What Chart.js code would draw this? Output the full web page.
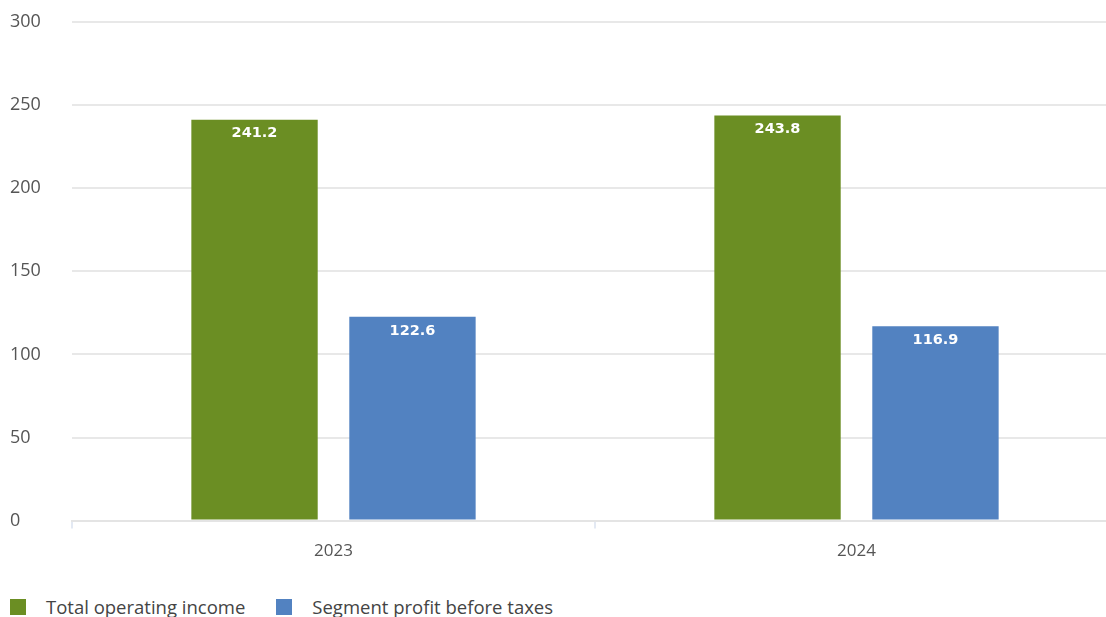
<!DOCTYPE html>
<html>
<head>
<meta charset="utf-8">
<script src="https://cdn.jsdelivr.net/npm/chart.js@4"></script>
<style>
  body { margin: 0; background: #fff; overflow: hidden; }
  #wrap { position: relative; width: 1118px; height: 617px; }
  #chartBox { position: absolute; left: 0; top: 0; width: 1118px; height: 575px; }
  .legend { position: absolute; left: 10px; top: 594px; display: flex; font-family: "Open Sans", sans-serif; font-size: 18.5px; color: #444; }
  .legend .item { display: flex; align-items: center; margin-right: 31px; }
  .legend .sw { width: 16px; height: 16px; margin-right: 20px; }
</style>
</head>
<body>
<div id="wrap">
  <div id="chartBox"><canvas id="myChart"></canvas></div>
  <div class="legend" id="legend"></div>
</div>
<script>
const years = ['2023', '2024'];
const totalIncome = [241.2, 243.8];
const segmentProfit = [122.6, 116.9];
const seriesNames = ['Total operating income', 'Segment profit before taxes'];
const colors = ['#6b8e23', '#5282c1'];

// white value labels just inside the top of each bar
const barLabels = {
	id: 'barLabels',
	afterDatasetsDraw(chart) {
		const ctx = chart.ctx;
		ctx.save();
		ctx.font = 'bold 14.5px "DejaVu Sans"';
		ctx.fillStyle = '#fff';
		ctx.textAlign = 'center';
		ctx.textBaseline = 'middle';
		chart.data.datasets.forEach((ds, i) => {
			chart.getDatasetMeta(i).data.forEach((bar, j) => {
				ctx.fillText(ds.data[j].toFixed(1), bar.x, bar.y + 14);
			});
		});
		ctx.restore();
	}
};

var ctx = document.getElementById('myChart').getContext('2d');
new Chart(ctx, {
	type: 'bar',
	data: {
		labels: years,
		datasets: [{
			label: seriesNames[0],
			data: totalIncome,
			backgroundColor: colors[0],
			categoryPercentage: 0.604,
			barPercentage: 0.8,
		}, {
			label: seriesNames[1],
			data: segmentProfit,
			backgroundColor: colors[1],
			categoryPercentage: 0.604,
			barPercentage: 0.8,
		}]
	},
	options: {
		responsive: true,
		maintainAspectRatio: false,
		animation: false,
		layout: { padding: { left: 10, top: 22, right: 0, bottom: 2 } },
		plugins: {
			legend: { display: false },
			tooltip: { enabled: false }
		},
		scales: {
			x: {
				grid: {
					drawOnChartArea: false,
					drawTicks: true,
					tickLength: 8,
					color: '#e3e9f3',
					lineWidth: 2
				},
				border: { display: true, color: '#e4e4e4', width: 2 },
				ticks: { padding: 12, color: '#555', font: { family: 'Open Sans', size: 17 } }
			},
			y: {
				min: 0,
				max: 300,
				afterFit: (scale) => { scale.width = 62; },
				grid: { color: '#e8e8e8', lineWidth: 2, drawTicks: false },
				border: { display: false },
				ticks: {
					stepSize: 50,
					crossAlign: 'far',
					padding: 0,
					color: '#555',
					font: { family: 'Open Sans', size: 18 }
				}
			}
		}
	},
	plugins: [barLabels]
});

const legendEl = document.getElementById('legend');
seriesNames.forEach((name, i) => {
	const item = document.createElement('div');
	item.className = 'item';
	item.innerHTML = `<span class="sw" style="background:${colors[i]}"></span><span>${name}</span>`;
	legendEl.appendChild(item);
});
</script>
</body>
</html>
